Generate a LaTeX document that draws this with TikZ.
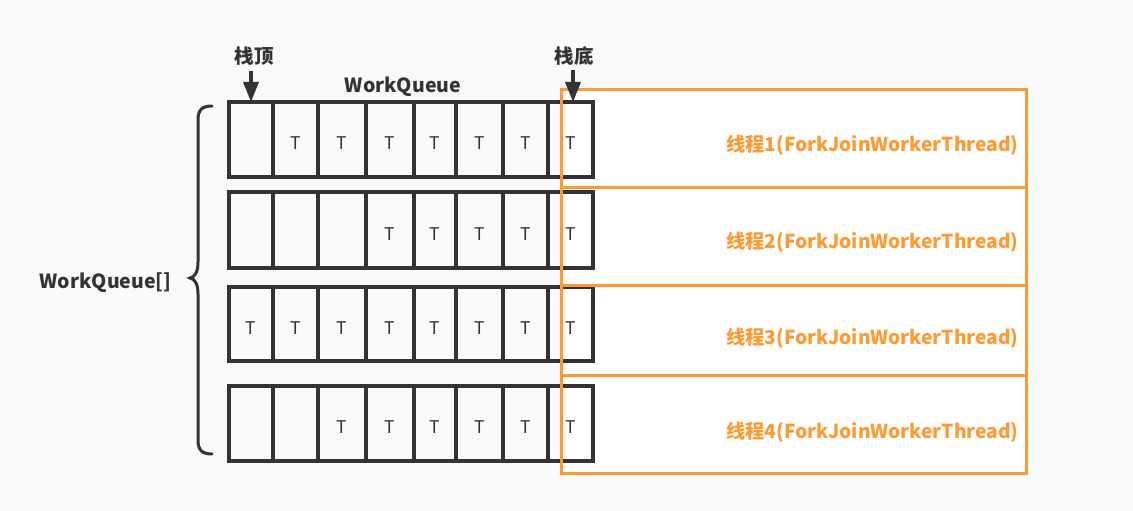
\documentclass[tikz,border=0pt]{standalone}
\usepackage{fontspec}
\setmainfont{Noto Sans CJK SC}
\usetikzlibrary{arrows.meta}
\definecolor{bg}{HTML}{FAFAFA}
\definecolor{ink}{HTML}{333333}
\definecolor{orng}{HTML}{FF9A33}
\tikzset{
  cellbox/.style={draw=ink, line width=3.3pt, inner sep=0pt, outer sep=0pt},
  thrbox/.style={draw=orng, line width=3pt, inner sep=0pt, outer sep=0pt},
  tlabel/.style={text=ink, font=\fontsize{17.5}{17.5}\selectfont},
  blabel/.style={text=ink, font=\bfseries\fontsize{19.5}{19.5}\selectfont},
  olabel/.style={text=orng, font=\bfseries\fontsize{19.2}{19.2}\selectfont, anchor=east},
  ptr/.style={draw=ink, line width=3.3pt, -{Triangle[width=15pt,length=20pt]}}
}
\begin{document}
\begin{tikzpicture}[x=1pt,y=-1pt]
\fill[bg] (0,0) rectangle (1133,511);
\useasboundingbox (0,0) rectangle (1133,511);
% thread boxes (white fill)
\fill[white] (561,90) rectangle (1026,473);
% cells
\def\xs{{229,273,318,366,414,456,503,548,593}}
\foreach \r/\top/\bot/\first in {1/102/177/2, 2/192/268/4, 3/287/361/1, 4/386/461/3}{
  \foreach \i in {1,...,8}{
    \pgfmathsetmacro{\xa}{\xs[\i-1]}
    \pgfmathsetmacro{\xb}{\xs[\i]}
    \path[cellbox] (\xa,\top) rectangle (\xb,\bot);
    \node[minimum width={(\xb-\xa)*1pt}, minimum height={(\bot-\top)*1pt}, inner sep=0pt, outer sep=0pt] (c\r-\i) at ({(\xa+\xb)/2},{(\top+\bot)/2}) {};
    \ifnum\i<\first\else
      \node[tlabel] at ({(\xa+\xb)/2},{(\top+\bot)/2+4}) {T};
    \fi
  }
}
% thread boxes outlines
\draw[thrbox] (561,90) rectangle (1026,187);
\draw[thrbox] (561,187) rectangle (1026,285);
\draw[thrbox] (561,285) rectangle (1026,375);
\draw[thrbox] (561,375) rectangle (1026,473);
\node[olabel] (t1) at (1022,145) {线程1(ForkJoinWorkerThread)};
\node[olabel] (t2) at (1022,242) {线程2(ForkJoinWorkerThread)};
\node[olabel] (t3) at (1022,338) {线程3(ForkJoinWorkerThread)};
\node[olabel] (t4) at (1022,432) {线程4(ForkJoinWorkerThread)};
% labels
\node[blabel] (wq) at (403,87) {WorkQueue};
\node[blabel, anchor=east] (wqa) at (175,283) {WorkQueue[]};
\node[blabel] (top) at (254,56) {栈顶};
\node[blabel] (bot) at (574,56) {栈底};
\coordinate (ta) at (251,71);
\coordinate (ba) at (573,70);
\draw[ptr] (ta) -- (ta |- c1-1.north);
\draw[ptr] (ba) -- (ba |- c1-8.north);
% brace
\draw[ink, line width=3pt, line cap=round]
  (212,106) .. controls (202,106) and (198,110) .. (198,120)
  -- (198,262) .. controls (198,272) and (195,277) .. (190,278)
  .. controls (195,279) and (198,284) .. (198,294)
  -- (198,440) .. controls (198,450) and (202,454) .. (212,454);
\end{tikzpicture}
\end{document}
